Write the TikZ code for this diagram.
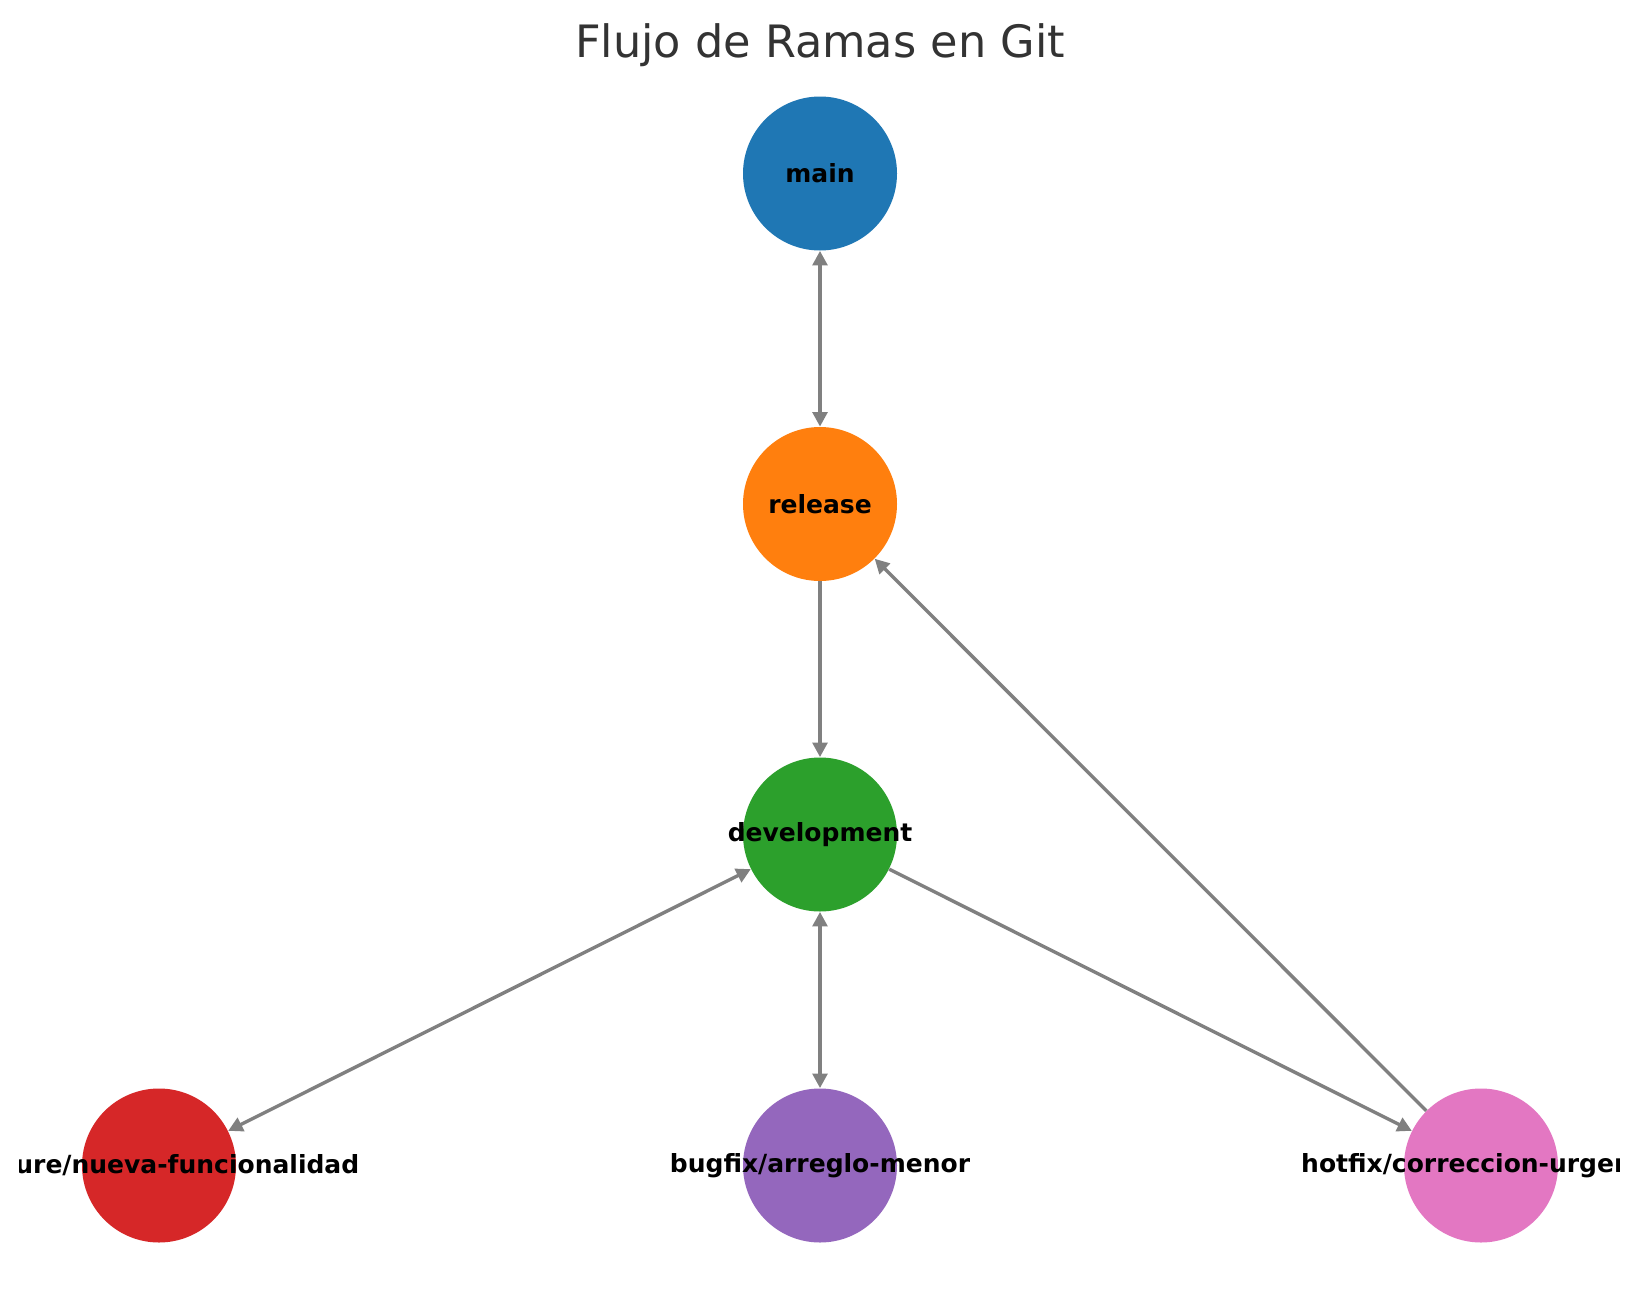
\documentclass[tikz,border=0pt]{standalone}
\usepackage{fontspec}
\setmainfont{DejaVu Sans}
\usetikzlibrary{arrows.meta}
\definecolor{cmain}{HTML}{1F77B4}
\definecolor{crel}{HTML}{FF7F0E}
\definecolor{cdev}{HTML}{2CA02C}
\definecolor{cfeat}{HTML}{D62728}
\definecolor{cbug}{HTML}{9467BD}
\definecolor{chot}{HTML}{E377C2}
\definecolor{cedge}{HTML}{808080}
\definecolor{ctitle}{HTML}{333333}
\tikzset{
  branch/.style={circle, fill=#1, draw=none, minimum size=77pt, inner sep=0pt},
  edgeline/.style={draw=cedge, line width=1.7pt},
  both/.style={{Triangle[length=7.2pt, width=7.3pt]}-{Triangle[length=7.2pt, width=7.3pt]}},
  fwd/.style={-{Triangle[length=7.2pt, width=7.3pt]}},
  lbl/.style={font=\fontsize{12.5}{14}\selectfont\bfseries, text=black, inner sep=0pt},
}
\begin{document}
\begin{tikzpicture}[x=0.5pt, y=-0.5pt]
\useasboundingbox (0,0) rectangle (1639,1290);
\clip (0,0) rectangle (1639,1290);
\fill[white] (0,0) rectangle (1639,1290);
\node[font=\fontsize{22.3}{26}\selectfont, text=ctitle, anchor=base] (title) at (820,57) {Flujo de Ramas en Git};
\node[branch=cmain] (main) at (820,173.5) {};
\node[branch=crel] (release) at (820,504) {};
\node[branch=cdev] (dev) at (820,834.5) {};
\node[branch=cfeat] (feat) at (159,1165.5) {};
\node[branch=cbug] (bug) at (820,1165.5) {};
\node[branch=chot] (hot) at (1481,1165.5) {};
\draw[edgeline, both] (main) -- (release);
\draw[edgeline, fwd] (release) -- (dev);
\draw[edgeline, both] (dev) -- (feat);
\draw[edgeline, both] (dev) -- (bug);
\draw[edgeline, fwd] (dev) -- (hot);
\draw[edgeline, fwd] (hot) -- (release);
\begin{scope}
\clip (19,0) rectangle (1619,1290);
\node[lbl] (tmain) at (main.center) {main};
\node[lbl] (trel) at (release.center) {release};
\node[lbl] (tdev) at (dev.center) {development};
\node[lbl] (tfeat) at (feat.center) {feature/nueva-funcionalidad};
\node[lbl] (tbug) at (bug.center) {bugfix/arreglo-menor};
\node[lbl] (thot) at (hot.center) {hotfix/correccion-urgente};
\end{scope}
\end{tikzpicture}
\end{document}
